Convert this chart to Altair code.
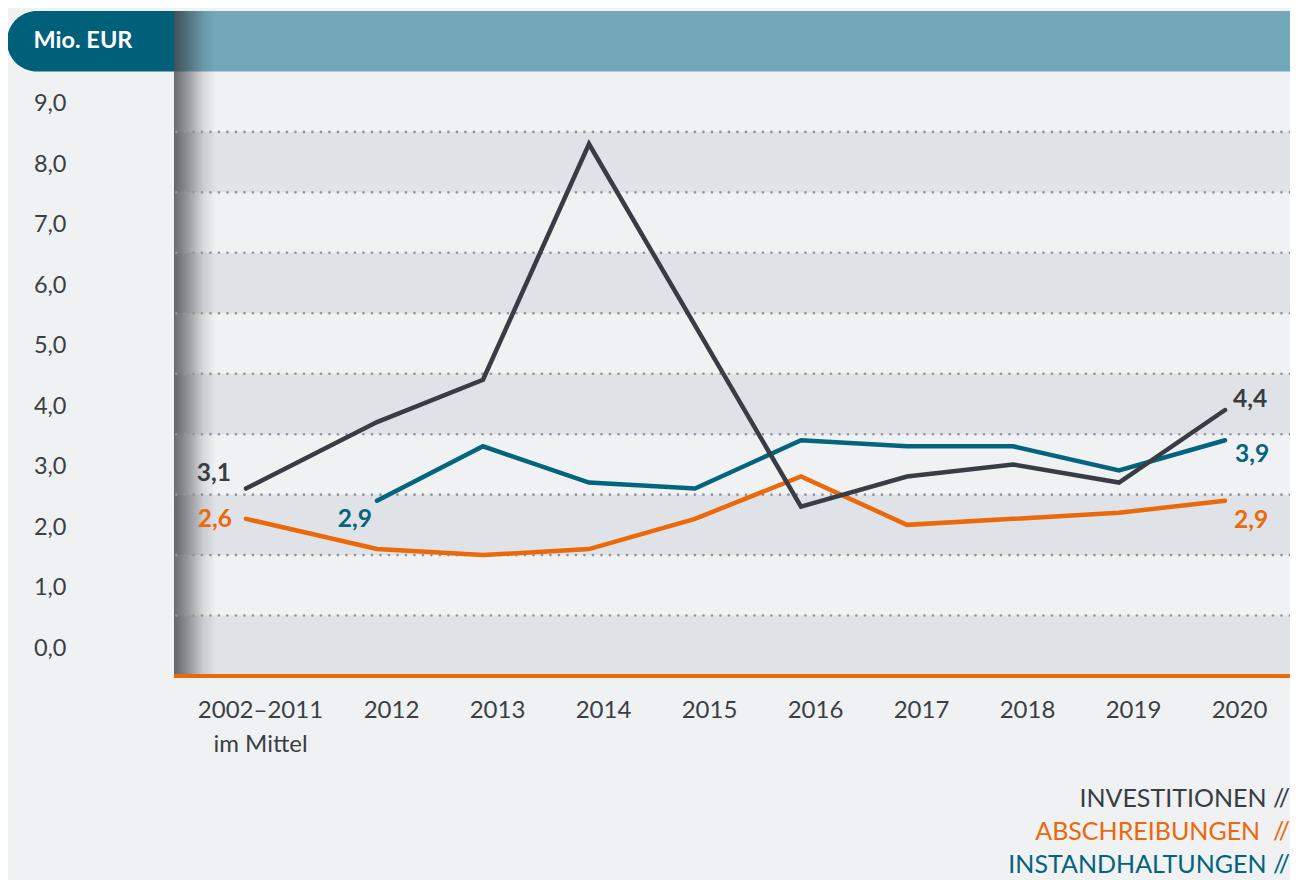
import altair as alt
import pandas as pd

# ---------------- data ----------------
periods = ["2002–2011|im Mittel", "2012", "2013", "2014", "2015", "2016",
           "2017", "2018", "2019", "2020"]
period_pos = [2010.764, 2012, 2013, 2014, 2015, 2016, 2017, 2018, 2019, 2020]

investitionen = [3.1, 4.2, 4.9, 8.8, 5.8, 2.8, 3.3, 3.5, 3.2, 4.4]
abschreibungen = [2.6, 2.1, 2.0, 2.1, 2.6, 3.3, 2.5, 2.6, 2.7, 2.9]
instandhaltungen = [None, 2.9, 3.8, 3.2, 3.1, 3.9, 3.8, 3.8, 3.4, 3.9]

series_names = ["INVESTITIONEN", "ABSCHREIBUNGEN", "INSTANDHALTUNGEN"]
legend_texts = ["INVESTITIONEN //", "ABSCHREIBUNGEN\u00a0 //", "INSTANDHALTUNGEN //"]
series_colors = ["#383d45", "#eb690b", "#04647d"]

y_ticks = [0, 1, 2, 3, 4, 5, 6, 7, 8, 9]
band_lo = [0, 2, 4, 6, 8]
band_hi = [1, 3, 5, 7, 9]
header_lo, header_hi = 10, 11
unit_label = "Mio. EUR"

# ---------------- layout ----------------
W, H = 1116, 665
FONT = "Lato"
TXT = "#3a3f46"

rows = []
for name, vals in zip(series_names, [investitionen, abschreibungen, instandhaltungen]):
    valid = [i for i, v in enumerate(vals) if v is not None]
    for i in valid:
        end = "first" if i == valid[0] else ("last" if i == valid[-1] else "mid")
        rows.append(dict(series=name, pos=period_pos[i], value=vals[i], end=end,
                         label=f"{vals[i]:.1f}".replace(".", ",")))
df = pd.DataFrame(rows)

def js_label(s):
    parts = s.split("|")
    if len(parts) > 1:
        return "[" + ",".join("'" + p + "'" for p in parts) + "]"
    return "'" + s + "'"

label_expr = "''"
for p, s in reversed(list(zip(period_pos, periods))):
    label_expr = f"datum.value == {p} ? {js_label(s)} : ({label_expr})"

x_scale = alt.Scale(domain=[2010.085, 2020.613], nice=False, zero=False)
y_scale = alt.Scale(domain=[0, 11], nice=False, zero=False)

x_axis = alt.Axis(values=period_pos, labelExpr=label_expr, title=None, domain=False,
                  ticks=False, grid=False, labelFont=FONT, labelFontSize=24,
                  labelColor=TXT, labelPadding=22, labelOffset=14, labelLineHeight=34,
                  labelBaseline="top", labelFlush=False, labelOverlap=False)
y_axis = alt.Axis(values=y_ticks, labelExpr="replace(format(datum.value, '.1f'), '.', ',')",
                  title=None, domain=False, ticks=False, grid=False, labelFont=FONT,
                  labelFontSize=23.5, labelColor=TXT, labelPadding=108, labelOffset=-28,
                  labelAlign="right", labelBaseline="middle", labelOverlap=False)

def X(f):
    return alt.X(f, type="quantitative", scale=x_scale, axis=x_axis)

def Y(f):
    return alt.Y(f, type="quantitative", scale=y_scale, axis=y_axis)

color_of = dict(zip(series_names, series_colors))

bands = alt.Chart(pd.DataFrame({"lo": band_lo, "hi": band_hi})).mark_rect(
    color="#dfe2e6").encode(y=Y("lo"), y2="hi", x=alt.value(0), x2=alt.value(W))

header = alt.Chart(pd.DataFrame({"lo": [header_lo], "hi": [header_hi]})).mark_rect(
    color="#72a8ba").encode(y=Y("lo"), y2="hi", x=alt.value(0), x2=alt.value(W))

shadow = alt.Chart(pd.DataFrame({"lo": [0], "hi": [header_hi]})).mark_rect(
    color=alt.LinearGradient(
        gradient="linear", x1=0, x2=1, y1=0, y2=0,
        stops=[alt.GradientStop(offset=0, color="rgba(40,42,46,0.68)"),
               alt.GradientStop(offset=0.3, color="rgba(40,42,46,0.46)"),
               alt.GradientStop(offset=0.7, color="rgba(40,42,46,0.12)"),
               alt.GradientStop(offset=1, color="rgba(40,42,46,0)")])
).encode(y=Y("lo"), y2="hi", x=alt.value(0), x2=alt.value(42))

grid = alt.Chart(pd.DataFrame({"v": y_ticks[1:]})).mark_rule(
    color="#8f959c", strokeWidth=2.6, strokeDash=[0.1, 8.4], strokeCap="round"
).encode(y=Y("v"))

baseline = alt.Chart(pd.DataFrame({"v": [y_ticks[0]]})).mark_rule(
    color=color_of["ABSCHREIBUNGEN"], strokeWidth=4).encode(y=Y("v"))

lines = []
for name in ["ABSCHREIBUNGEN", "INSTANDHALTUNGEN", "INVESTITIONEN"]:
    lines.append(
        alt.Chart(df).transform_filter(alt.datum.series == name).mark_line(
            color=color_of[name], strokeWidth=4.5, strokeCap="round"
        ).encode(x=X("pos"), y=Y("value"))
    )

label_specs = [
    ("INVESTITIONEN", "first", "right", -15, -15),
    ("ABSCHREIBUNGEN", "first", "right", -14, 1),
    ("INSTANDHALTUNGEN", "first", "right", -5, 19),
    ("INVESTITIONEN", "last", "left", 8, -10),
    ("INSTANDHALTUNGEN", "last", "left", 10, 15),
    ("ABSCHREIBUNGEN", "last", "left", 9, 20),
]
labels = []
for name, end, align, dx, dy in label_specs:
    labels.append(
        alt.Chart(df).transform_filter(
            (alt.datum.series == name) & (alt.datum.end == end)
        ).mark_text(font=FONT, fontSize=24.5, fontWeight="bold", color=color_of[name],
                    align=align, baseline="middle", dx=dx, dy=dy
        ).encode(x=X("pos"), y=Y("value"), text="label:N")
    )

pill = alt.Chart(pd.DataFrame({"lo": [header_lo], "hi": [header_hi]})).mark_rect(
    color="#00607a", cornerRadiusTopLeft=30, cornerRadiusBottomLeft=30
).encode(y=Y("lo"), y2="hi", x=alt.value(-167), x2=alt.value(0))

unit_text = alt.Chart(pd.DataFrame({"v": [(header_lo + header_hi) / 2],
                                    "t": [unit_label]})).mark_text(
    font=FONT, fontSize=23.5, fontWeight="bold", color="white", align="center",
    baseline="middle"
).encode(y=Y("v"), x=alt.value(-91), text="t:N")

legend = []
for i, (txt, col) in enumerate(zip(legend_texts, series_colors)):
    legend.append(
        alt.Chart(pd.DataFrame({"t": [txt]})).mark_text(
            font=FONT, fontSize=25, color=col, align="right", baseline="alphabetic"
        ).encode(x=alt.value(W), y=alt.value(H + 131 + 33 * i), text="t:N")
    )

chart = alt.layer(
    bands, header, shadow, grid, baseline, *lines, *labels, pill, unit_text, *legend
).properties(
    width=W, height=H,
    padding={"left": 166, "top": 3, "right": 0, "bottom": 204},
    autosize=alt.AutoSizeParams(type="none"),
    background="#eff1f3",
).configure_view(stroke=None)

chart.save("out.html", embed_options={"renderer": "svg", "actions": False})
